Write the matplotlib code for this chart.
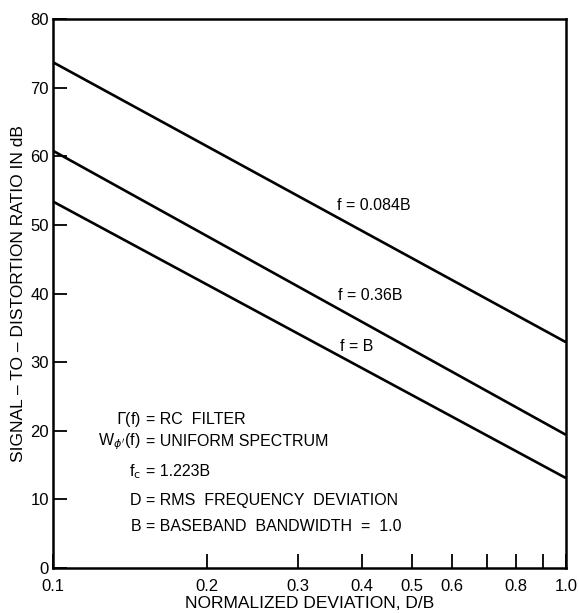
import matplotlib
matplotlib.use("Agg")
import matplotlib.pyplot as plt
from matplotlib.ticker import FixedLocator, FixedFormatter, NullFormatter

plt.rcParams['font.family'] = ['Liberation Sans', 'DejaVu Sans']

# Data
deviation = [0.1, 1.0]
sdr_f0084 = [73.7, 32.9]
sdr_f036 = [60.8, 19.4]
sdr_fB = [53.4, 13.1]
curve_labels = ["f = 0.084B", "f = 0.36B", "f = B"]
label_pos = [(0.358, 52.8), (0.359, 39.7), (0.362, 32.3)]

major_ticks = [0.1, 0.2, 0.3, 0.4, 0.5, 0.6, 0.8, 1.0]
major_labels = ["0.1", "0.2", "0.3", "0.4", "0.5", "0.6", "0.8", "1.0"]
minor_ticks = [0.7, 0.9]
y_ticks = [0, 10, 20, 30, 40, 50, 60, 70, 80]

fig = plt.figure(figsize=(5.79, 6.13), dpi=100)
ax = fig.add_axes([53/579, 1-568/613, 513/579, 549/613])

for ys in (sdr_f0084, sdr_f036, sdr_fB):
    ax.plot(deviation, ys, color='black', lw=1.9, solid_capstyle='butt')

for lab, (x, y) in zip(curve_labels, label_pos):
    ax.text(x, y, lab, fontsize=11.5, ha='left', va='center')

ax.set_xscale('log')
ax.set_xlim(0.1, 1.0)
ax.set_ylim(0, 80)
ax.xaxis.set_major_locator(FixedLocator(major_ticks))
ax.xaxis.set_major_formatter(FixedFormatter(major_labels))
ax.xaxis.set_minor_locator(FixedLocator(minor_ticks))
ax.xaxis.set_minor_formatter(NullFormatter())
ax.set_yticks(y_ticks)
ax.tick_params(axis='both', which='both', direction='in', length=10, width=1.3,
               labelsize=12, top=False, right=False)
ax.tick_params(axis='x', pad=8)
ax.tick_params(axis='y', pad=3)
for s in ax.spines.values():
    s.set_linewidth(1.8)

ax.set_ylabel("SIGNAL – TO – DISTORTION RATIO IN dB", fontsize=12.5, labelpad=3)
ax.set_xlabel("NORMALIZED DEVIATION, D/B", fontsize=12.5, labelpad=1)

# Annotation block
left_parts = [r"$\Gamma$(f)", r"W$_{\phi'}$(f)", r"f$_{\rm c}$", "D", "B"]
right_parts = ["= RC  FILTER", "= UNIFORM SPECTRUM", "= 1.223B",
               "= RMS  FREQUENCY  DEVIATION", "= BASEBAND  BANDWIDTH  =  1.0"]
ann_y = [21.7, 18.4, 14.0, 9.9, 6.0]
x_left_end = (141 - 53) / 513
x_right_start = (146 - 53) / 513
for lp, rp, yy in zip(left_parts, right_parts, ann_y):
    ax.text(x_left_end, yy, lp, transform=ax.get_yaxis_transform(),
            fontsize=11.5, ha='right', va='center')
    ax.text(x_right_start, yy, rp, transform=ax.get_yaxis_transform(),
            fontsize=11.5, ha='left', va='center')

fig.savefig("out.png", dpi=100)
